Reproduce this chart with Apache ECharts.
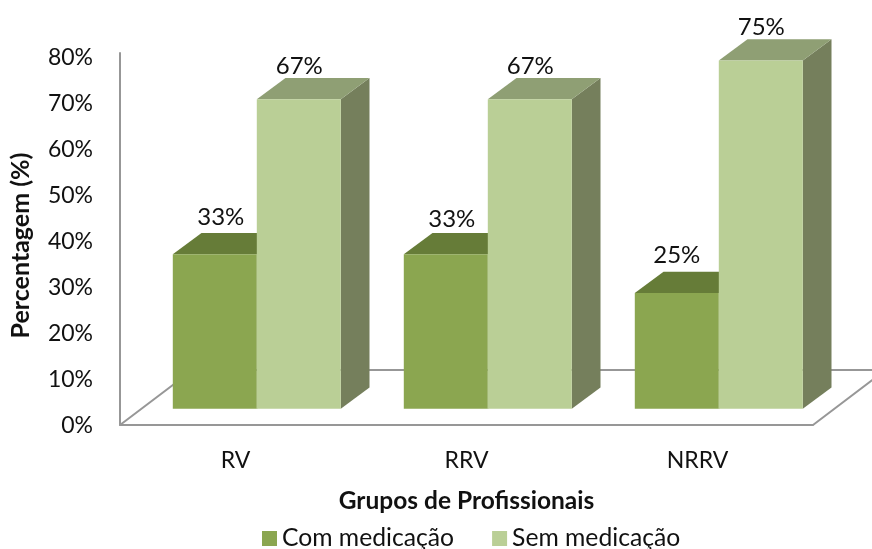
<!DOCTYPE html>
<html>
<head>
<meta charset="utf-8">
<style>html,body{margin:0;padding:0;background:#fff}#c{width:872px;height:549px}</style>
<script src="https://cdn.jsdelivr.net/npm/echarts@6/dist/echarts.min.js"></script>
</head>
<body>
<div id="c"></div>
<script>
const categories = ['RV', 'RRV', 'NRRV'];
const comMedicacao = [33.33, 33.33, 25];
const semMedicacao = [66.67, 66.67, 75];
const tickValues = [0, 10, 20, 30, 40, 50, 60, 70, 80];

const FONT = 'Lato';
const BAR_W = 84, BAR_DX = 21.3, BAR_DY = 16.3, DEPTH_X = 28.7, DEPTH_Y = 21.2;
const FLOOR_X = 72.7, FLOOR_Y = 55;
const LINE = '#979797';
// hand-placed data label offsets in the source chart
const labelShift = { com: [[6, -37], [6, -34.5], [0, -38]], sem: [[0.5, -33], [0.5, -33], [0.5, -33]] };

function barRenderer(side, colors, shifts) {
  return function (params, api) {
    const i = api.value(0);
    const base = api.coord([i, 0]);
    const top = api.coord([i, api.value(1)]);
    const x0 = base[0] + BAR_DX + (side === 0 ? -BAR_W : 0);
    const x1 = x0 + BAR_W;
    const yb = base[1] - BAR_DY;
    const yt = top[1] - BAR_DY + 0.5;
    const s = shifts[i];
    return {
      type: 'group',
      children: [
        { type: 'polygon', shape: { points: [[x1, yt], [x1 + DEPTH_X, yt - DEPTH_Y], [x1 + DEPTH_X, yb - DEPTH_Y], [x1, yb]] }, style: { fill: colors.side } },
        { type: 'polygon', shape: { points: [[x0, yt], [x0 + DEPTH_X, yt - DEPTH_Y], [x1 + DEPTH_X, yt - DEPTH_Y], [x1, yt]] }, style: { fill: colors.top } },
        { type: 'rect', shape: { x: x0, y: yt, width: BAR_W, height: yb - yt }, style: { fill: colors.front } },
        { type: 'text', z2: 10, style: { x: (x0 + x1) / 2 + s[0], y: yt + s[1], text: Math.round(api.value(1)) + '%', fill: '#111', font: '24px ' + FONT, align: 'center', verticalAlign: 'middle' } }
      ]
    };
  };
}

const comColors = { front: '#8BA650', top: '#667C38', side: '#667C38' };
const semColors = { front: '#BACF96', top: '#8F9F74', side: '#757F5C' };

const option = {
  animation: false,
  backgroundColor: '#fff',
  grid: [
    { left: 120, top: 57.5, width: 693, height: 368 },
    { left: 120, top: 53, width: 693, height: 372 }
  ],
  xAxis: [
    { gridIndex: 0, type: 'category', data: categories, show: false },
    {
      gridIndex: 1, type: 'category', data: categories,
      axisLine: { show: true, lineStyle: { color: LINE, width: 2 } }, axisTick: { show: false },
      axisLabel: { color: '#111', fontFamily: FONT, fontSize: 23, margin: 24 },
      name: 'Grupos de Profissionais', nameLocation: 'middle', nameGap: 64,
      nameTextStyle: { color: '#111', fontFamily: FONT, fontWeight: 'bold', fontSize: 24.5 }
    }
  ],
  yAxis: [
    {
      gridIndex: 0, type: 'value', min: 0, max: 80, interval: 10,
      axisLine: { show: false }, axisTick: { show: false }, splitLine: { show: false },
      axisLabel: { color: '#111', fontFamily: FONT, fontSize: 23, margin: 34, formatter: '{value}%' },
      name: 'Percentagem (%)', nameLocation: 'middle', nameGap: 94, nameRotate: 90,
      nameTextStyle: { color: '#111', fontFamily: FONT, fontWeight: 'bold', fontSize: 25, padding: [0, 8, 0, 0] }
    },
    {
      gridIndex: 1, type: 'value', min: 0, max: 80, interval: 10,
      axisLine: { show: true, lineStyle: { color: LINE, width: 2 } }, axisTick: { show: false },
      axisLabel: { show: false }, splitLine: { show: false }
    }
  ],
  legend: {
    left: 257, top: 521, itemWidth: 15, itemHeight: 15, itemGap: 38, icon: 'rect',
    data: ['Com medicação', 'Sem medicação'],
    textStyle: { color: '#111', fontFamily: FONT, fontSize: 24.7 }
  },
  series: [
    {
      type: 'custom', xAxisIndex: 1, yAxisIndex: 1, z: 1, silent: true, clip: false,
      data: [[0, 0]],
      renderItem: function (params, api) {
        const a = api.coord([0, 0]);
        const band = api.size([1, 0])[0];
        const l = a[0] - band / 2, r = a[0] + band * 2.5, y = a[1];
        return {
          type: 'polyline',
          shape: { points: [[l, y], [l + FLOOR_X, y - FLOOR_Y], [r + FLOOR_X, y - FLOOR_Y], [r, y]] },
          style: { stroke: LINE, lineWidth: 2, fill: null }
        };
      }
    },
    {
      name: 'Com medicação', type: 'custom', xAxisIndex: 1, yAxisIndex: 1, z: 2, clip: false,
      itemStyle: { color: comColors.front },
      data: categories.map((c, i) => [i, comMedicacao[i]]),
      encode: { x: 0, y: 1 },
      renderItem: barRenderer(0, comColors, labelShift.com)
    },
    {
      name: 'Sem medicação', type: 'custom', xAxisIndex: 1, yAxisIndex: 1, z: 3, clip: false,
      itemStyle: { color: semColors.front },
      data: categories.map((c, i) => [i, semMedicacao[i]]),
      encode: { x: 0, y: 1 },
      renderItem: barRenderer(1, semColors, labelShift.sem)
    }
  ]
};
const chart = echarts.init(document.getElementById('c'), null, { renderer: 'canvas' });
chart.setOption(option);
</script>
</body>
</html>
